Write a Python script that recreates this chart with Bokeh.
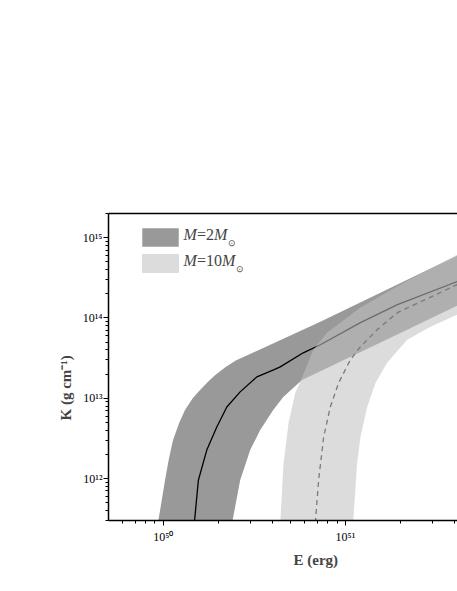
from bokeh.plotting import figure
from bokeh.models import Range1d, LogAxis, FixedTicker, Label, BoxAnnotation, CustomJSTickFormatter, Title
from bokeh.embed import file_html
from bokeh.resources import INLINE

# ---- data ----
e2_upper = [9.35e49, 1.022e50, 1.07e50, 1.131e50, 1.225e50, 1.316e50, 1.45e50, 1.592e50, 1.76e50, 1.93e50, 2.2e50, 2.5e50, 7.287e50, 4.2e51]
k2_upper = [2.8e11, 9.52e11, 1.7e12, 3.01e12, 5.0e12, 7.14e12, 1.0e13, 1.27e13, 1.6e13, 1.95e13, 2.45e13, 2.95e13, 8.99e13, 6.1e14]
e2_lower = [2.388e50, 2.643e50, 3.0e50, 3.406e50, 4.015e50, 4.559e50, 5.776e50, 2.186e51, 4.2e51]
k2_lower = [2.8e11, 9.52e11, 2.26e12, 4.01e12, 7.14e12, 1.038e13, 1.69e13, 7.14e13, 1.45e14]
e2_mid = [1.481e50, 1.558e50, 1.733e50, 1.967e50, 2.233e50, 2.643e50, 3.266e50, 4.031e50, 4.388e50,
          5.872e50, 7.287e50, 1.21e51, 1.933e51, 4.2e51]
k2_mid = [2.8e11, 9.52e11, 2.26e12, 4.38e12, 7.79e12, 1.2e13, 1.846e13, 2.26e13, 2.46e13,
          3.68e13, 4.64e13, 8.73e13, 1.466e14, 2.89e14]

e10_upper = [4.388e50, 4.576e50, 4.875e50, 5.306e50, 5.776e50, 6.667e50, 7.93e50, 1.21e51, 2.008e51, 3.333e51, 4.2e51]
k10_upper = [2.8e11, 1.553e12, 4.91e12, 1.165e13, 1.794e13, 4.02e13, 6.55e13, 1.345e14, 2.61e14, 4.77e14, 6.3e14]
e10_lower = [1.103e51, 1.16e51, 1.21e51, 1.317e51, 1.463e51, 1.696e51, 2.186e51, 2.936e51, 4.2e51]
k10_lower = [2.8e11, 1.553e12, 3.28e12, 7.79e12, 1.553e13, 2.76e13, 5.36e13, 7.78e13, 1.12e14]
e10_mid = [6.839e50, 7.129e50, 7.596e50, 8.268e50, 9.186e50, 1.065e51, 1.21e51, 1.495e51, 1.933e51, 4.2e51]
k10_mid = [2.8e11, 9.52e11, 3.28e12, 7.79e12, 1.553e13, 3.01e13, 4.38e13, 7.14e13, 1.165e14, 2.66e14]

x_ticks = [1e50, 1e51]
x_tick_labels = ["10\u2075\u2070", "10\u2075\u00b9"]
y_ticks = [1e12, 1e13, 1e14, 1e15]
y_tick_labels = ["10\u00b9\u00b2", "10\u00b9\u00b3", "10\u00b9\u2074", "10\u00b9\u2075"]
x_title = "E (erg)"
y_title = "K (g cm\u207b\u00b9)"
legend_labels = [("M", "=2", "M"), ("M", "=10", "M")]

FONT = "Liberation Serif"
DARK = "#999999"
LIGHT = "#c0c0c0"

p = figure(width=457, height=580, x_axis_type="log", y_axis_type="log",
           x_range=Range1d(5e49, 4.13e51), y_range=Range1d(3e11, 2e15),
           output_backend="svg", toolbar_location=None,
           min_border_left=108, min_border_right=0, min_border_top=213, min_border_bottom=60)
p.outline_line_color = None
p.xgrid.visible = False
p.ygrid.visible = False

p.patch(e2_upper + e2_lower[::-1], k2_upper + k2_lower[::-1], fill_color=DARK, line_color=None)
p.line(e2_mid, k2_mid, line_color="black", line_width=1.3)
p.patch(e10_upper + e10_lower[::-1], k10_upper + k10_lower[::-1], fill_color=LIGHT, fill_alpha=0.56, line_color=None)
p.line(e10_mid, k10_mid, line_color="#7a7a7a", line_width=1.3, line_dash="5 4")

fmt_code = """
let best = 0, bd = 1e9;
for (let i = 0; i < tvals.length; i++) {
  const d = Math.abs(Math.log10(tick) - Math.log10(tvals[i]));
  if (d < bd) { bd = d; best = i; }
}
return bd < 0.01 ? tlabels[best] : "";
"""
minor_x = [m * 10.0 ** d for d in (49, 50, 51) for m in range(2, 10)]
minor_y = [m * 10.0 ** d for d in (11, 12, 13, 14, 15) for m in range(2, 10)]

for ax, tk, lb, mn in ((p.xaxis[0], x_ticks, x_tick_labels, minor_x), (p.yaxis[0], y_ticks, y_tick_labels, minor_y)):
    ax.ticker = FixedTicker(ticks=tk, minor_ticks=mn)
    ax.formatter = CustomJSTickFormatter(args=dict(tvals=tk, tlabels=lb), code=fmt_code)
    ax.axis_line_width = 1.5
    ax.axis_line_color = "black"
    ax.major_tick_in = 0
    ax.major_tick_out = 5
    ax.minor_tick_in = 0
    ax.minor_tick_out = 3
    ax.major_label_text_font = FONT
    ax.major_label_text_font_size = "12px"
    ax.major_label_text_color = "black"
p.xaxis[0].major_label_standoff = 4
p.yaxis[0].major_label_standoff = 1

top = LogAxis(ticker=FixedTicker(ticks=[]), axis_line_width=1.5, axis_line_color="black",
              major_tick_out=0, minor_tick_out=0, major_label_text_font_size="0px",
              major_label_standoff=0)
p.add_layout(top, "above")

# axis titles
p.add_layout(Title(text=x_title, align="left", offset=185, standoff=6,
                   text_font=FONT, text_font_size="15px", text_font_style="bold"), "below")
p.add_layout(Title(text=y_title, align="left", offset=100, standoff=12,
                   text_font=FONT, text_font_size="15px", text_font_style="bold"), "left")

# legend
sw = [(DARK, "#7f7f7f"), ("#dcdcdc", "#b4b4b4")]
for i, ((fc, lc), parts) in enumerate(zip(sw, legend_labels)):
    top_y = 292 - 26 * i
    p.add_layout(BoxAnnotation(left=34, right=70, top=top_y, bottom=top_y - 18,
                               left_units="screen", right_units="screen",
                               top_units="screen", bottom_units="screen",
                               fill_color=fc, fill_alpha=1, line_color=lc, line_width=1))
    base = top_y - 14
    xs = 75
    p.add_layout(Label(x=xs, y=base, x_units="screen", y_units="screen", text=parts[0],
                       text_font=FONT, text_font_size="16px", text_font_style="italic"))
    xs += 13.5
    p.add_layout(Label(x=xs, y=base, x_units="screen", y_units="screen", text=parts[1],
                       text_font=FONT, text_font_size="16px"))
    xs += 9 + 8 * (len(parts[1]) - 1)
    p.add_layout(Label(x=xs, y=base, x_units="screen", y_units="screen", text=parts[2],
                       text_font=FONT, text_font_size="16px", text_font_style="italic"))
    xs += 13.5
    p.add_layout(Label(x=xs, y=base - 5, x_units="screen", y_units="screen", text="\u2299",
                       text_font=FONT, text_font_size="9px"))

open("out.html", "w").write(file_html(p, INLINE))
